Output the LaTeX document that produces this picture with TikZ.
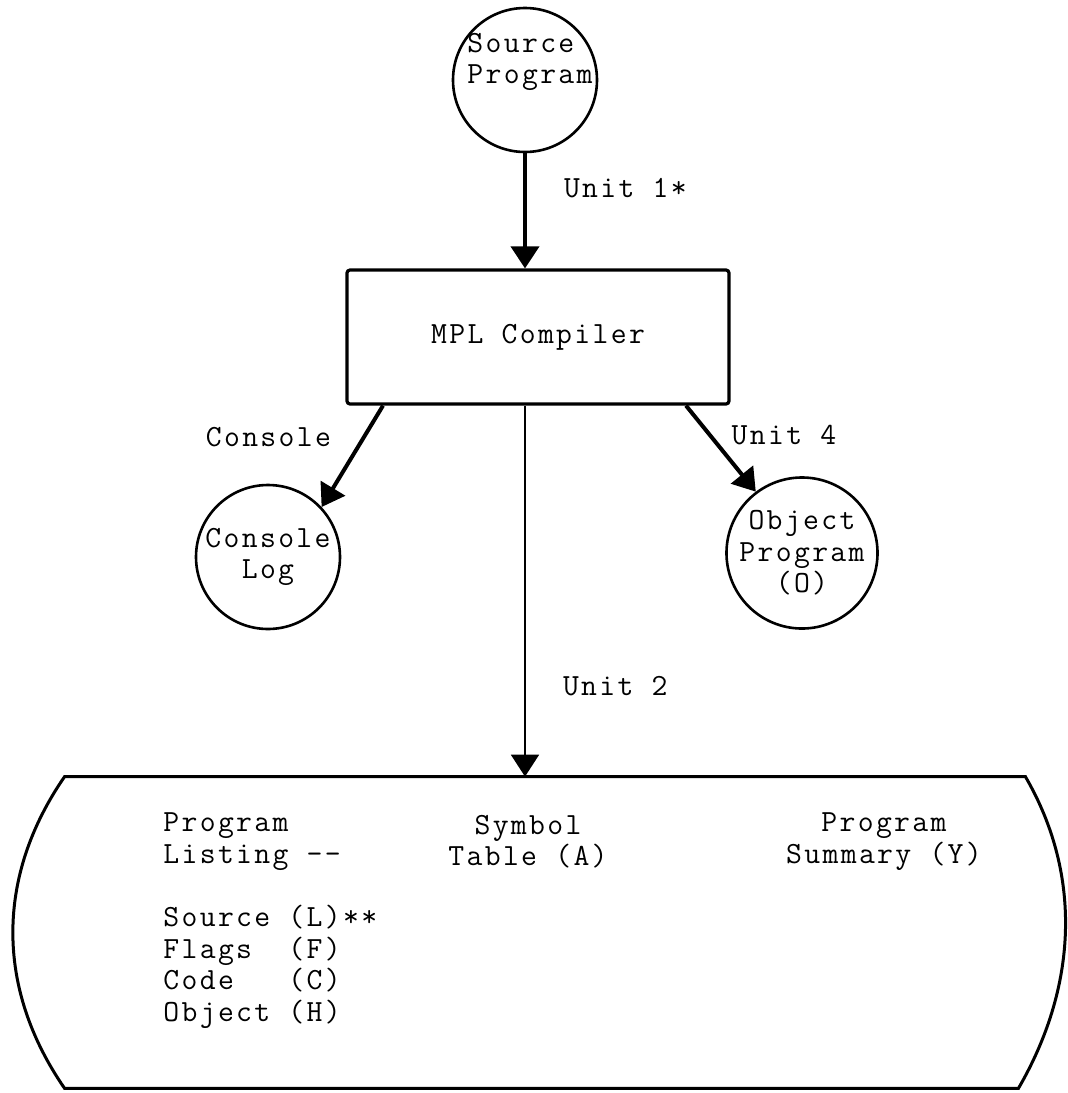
\documentclass[tikz,border=0pt]{standalone}
\usepackage{fontspec}
\setmonofont[LetterSpace=7.6]{Latin Modern Mono}
\usetikzlibrary{arrows.meta}
\newcommand{\flowfont}{\ttfamily\fontsize{15.4}{15.8}\selectfont}

\begin{document}
\begin{tikzpicture}[x=0.5pt,y=-0.5pt,
    every node/.style={font=\flowfont},
    store/.style={draw,circle,line width=1.3pt,minimum size=72pt,inner sep=0pt,align=center},
    flow/.style={-{Triangle[length=11pt,width=14pt]},line width=2pt},
    tag/.style={inner sep=0pt}]
  \useasboundingbox (0,0) rectangle (1068,1093);
  % files
  \node[store] (src) at (525,80) {};
  \node[tag,align=left] (srctxt) at (530,62) {Source\\Program};
  \node[store] (con) at (268,557) {Console\\Log};
  \node[store] (obj) at (802,553) {Object\\Program\\(O)};
  % compiler
  \node[draw,line width=1.6pt,rounded corners=1.5pt,minimum width=191pt,minimum height=67pt] (cmp) at (538,337) {MPL Compiler};
  % printer output
  \node[minimum width=480pt,minimum height=155.5pt,inner sep=0pt] (disp) at (545,932.5) {};
  \draw[line width=1.5pt] (disp.north west) -- (disp.north east)
    .. controls +(58,100) and +(58,-100) .. ([xshift=-3.5pt]disp.south east)
    -- (disp.south west)
    .. controls +(-69,-100) and +(-69,100) .. (disp.north west) -- cycle;
  \node[tag,align=left,anchor=west] (lst) at (163,841.5) {Program\\Listing --};
  \node[tag,align=center] (sym) at (528,841.5) {Symbol\\Table (A)};
  \node[tag,align=center] (sum) at (884,841.5) {Program\\Summary (Y)};
  \node[tag,align=left,anchor=west] (opts) at (163,967) {Source (L)**\\Flags\ \ (F)\\Code\ \ \ (C)\\Object (H)};
  % units
  \draw[flow] (src) -- (src |- cmp.north) node[tag,pos=0.3,right=18.5pt] (u1) {Unit 1*};
  \draw[flow] ([xshift=-77.5pt]cmp.south) -- (con.43) node[tag,pos=0.31,left=15.5pt] (clbl) {Console};
  \draw[flow] ([xshift=74pt]cmp.south) -- (obj.127) node[tag,pos=0.34,right=10pt] (u4) {Unit 4};
  \draw[flow,line width=1pt] (src |- cmp.south) -- (src |- disp.north) node[tag,pos=0.755,right=18.5pt] (u2) {Unit 2};
\end{tikzpicture}
\end{document}
